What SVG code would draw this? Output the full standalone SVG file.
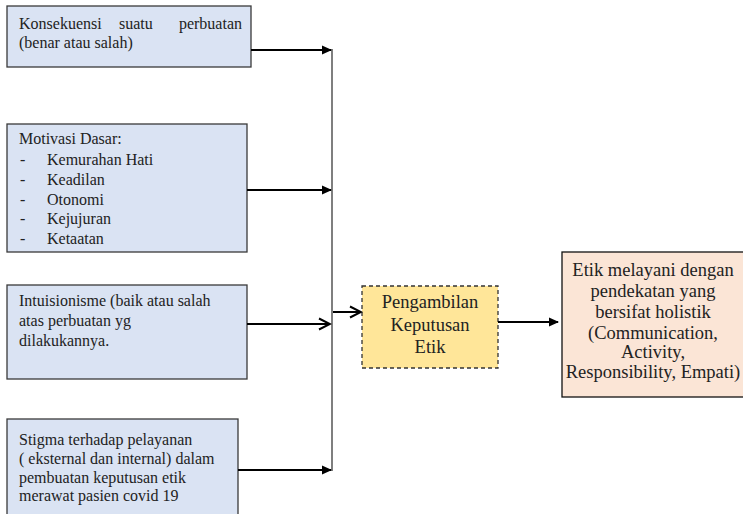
<svg xmlns="http://www.w3.org/2000/svg" width="743" height="514" viewBox="0 0 743 514">
<style>
.b{fill:#DAE3F3;stroke:#3a3a3a;stroke-width:1.3}
.t{font-size:16px;fill:#222}
.m{font-size:18.5px;fill:#222;text-anchor:middle}
.ln{stroke:#000;stroke-width:2;fill:none}
</style>
<defs>
<marker id="tri" markerWidth="10" markerHeight="10" refX="9" refY="5" orient="auto" markerUnits="userSpaceOnUse">
<path d="M0,0.5 L10,5 L0,9.5 Z" fill="#000"/>
</marker>
<marker id="chev" markerWidth="14" markerHeight="14" refX="12" refY="7" orient="auto" markerUnits="userSpaceOnUse">
<path d="M1,1.5 L12,7 L1,12.5" fill="none" stroke="#000" stroke-width="2"/>
</marker>
</defs>
<rect width="743" height="514" fill="#fff"/>
<g font-family="Liberation Serif, DejaVu Serif, serif">
<g id="n1">
<rect class="b" x="7" y="6" width="244" height="61"/>
<text class="t" x="19" y="29">Konsekuensi</text>
<text class="t" x="119" y="29">suatu</text>
<text class="t" x="242" y="29" text-anchor="end">perbuatan</text>
<text class="t" x="19" y="48">(benar atau salah)</text>
</g>
<g id="n2">
<rect class="b" x="7" y="124" width="240" height="128"/>
<text class="t" x="19" y="144">Motivasi Dasar:</text>
<text class="t" x="20" y="165">-</text><text class="t" x="47" y="165">Kemurahan Hati</text>
<text class="t" x="20" y="185">-</text><text class="t" x="47" y="185">Keadilan</text>
<text class="t" x="20" y="205">-</text><text class="t" x="47" y="205">Otonomi</text>
<text class="t" x="20" y="224">-</text><text class="t" x="47" y="224">Kejujuran</text>
<text class="t" x="20" y="244">-</text><text class="t" x="47" y="244">Ketaatan</text>
</g>
<g id="n3">
<rect class="b" x="7" y="285" width="240" height="94"/>
<text class="t" x="19" y="306">Intuisionisme (baik atau salah</text>
<text class="t" x="19" y="326">atas perbuatan yg</text>
<text class="t" x="19" y="346">dilakukannya.</text>
</g>
<g id="n4">
<rect class="b" x="7" y="419" width="231" height="100"/>
<text class="t" x="19" y="445">Stigma terhadap pelayanan</text>
<text class="t" x="19" y="464">( eksternal dan internal) dalam</text>
<text class="t" x="19" y="483">pembuatan keputusan etik</text>
<text class="t" x="19" y="501">merawat pasien covid 19</text>
</g>
<g id="n5">
<rect x="362" y="286" width="136" height="82" fill="#FFE699" stroke="#333" stroke-width="1.3" stroke-dasharray="4,3"/>
<text class="m" x="430" y="308">Pengambilan</text>
<text class="m" x="430" y="331">Keputusan</text>
<text class="m" x="430" y="353">Etik</text>
</g>
<g id="n6">
<rect x="562" y="252" width="182" height="145" fill="#FBE5D6" stroke="#111" stroke-width="1.3"/>
<text class="m" x="653" y="276">Etik melayani dengan</text>
<text class="m" x="653" y="297">pendekatan yang</text>
<text class="m" x="653" y="318">bersifat holistik</text>
<text class="m" x="653" y="339">(Communication,</text>
<text class="m" x="653" y="358">Activity,</text>
<text class="m" x="653" y="378">Responsibility, Empati)</text>
</g>
</g>
<g id="connectors">
<line x1="332" y1="49" x2="332" y2="471" stroke="#7f7f7f" stroke-width="2"/>
<line class="ln" x1="251" y1="50" x2="331" y2="50" marker-end="url(#tri)"/>
<line class="ln" x1="247" y1="190" x2="331" y2="190" marker-end="url(#tri)"/>
<line class="ln" x1="247" y1="324" x2="330" y2="324" marker-end="url(#chev)"/>
<line class="ln" x1="238" y1="470" x2="331" y2="470" marker-end="url(#tri)"/>
<line class="ln" x1="333" y1="312" x2="361" y2="312" marker-end="url(#chev)"/>
<line class="ln" x1="498" y1="322" x2="558" y2="322" marker-end="url(#tri)"/>
</g>
</svg>
